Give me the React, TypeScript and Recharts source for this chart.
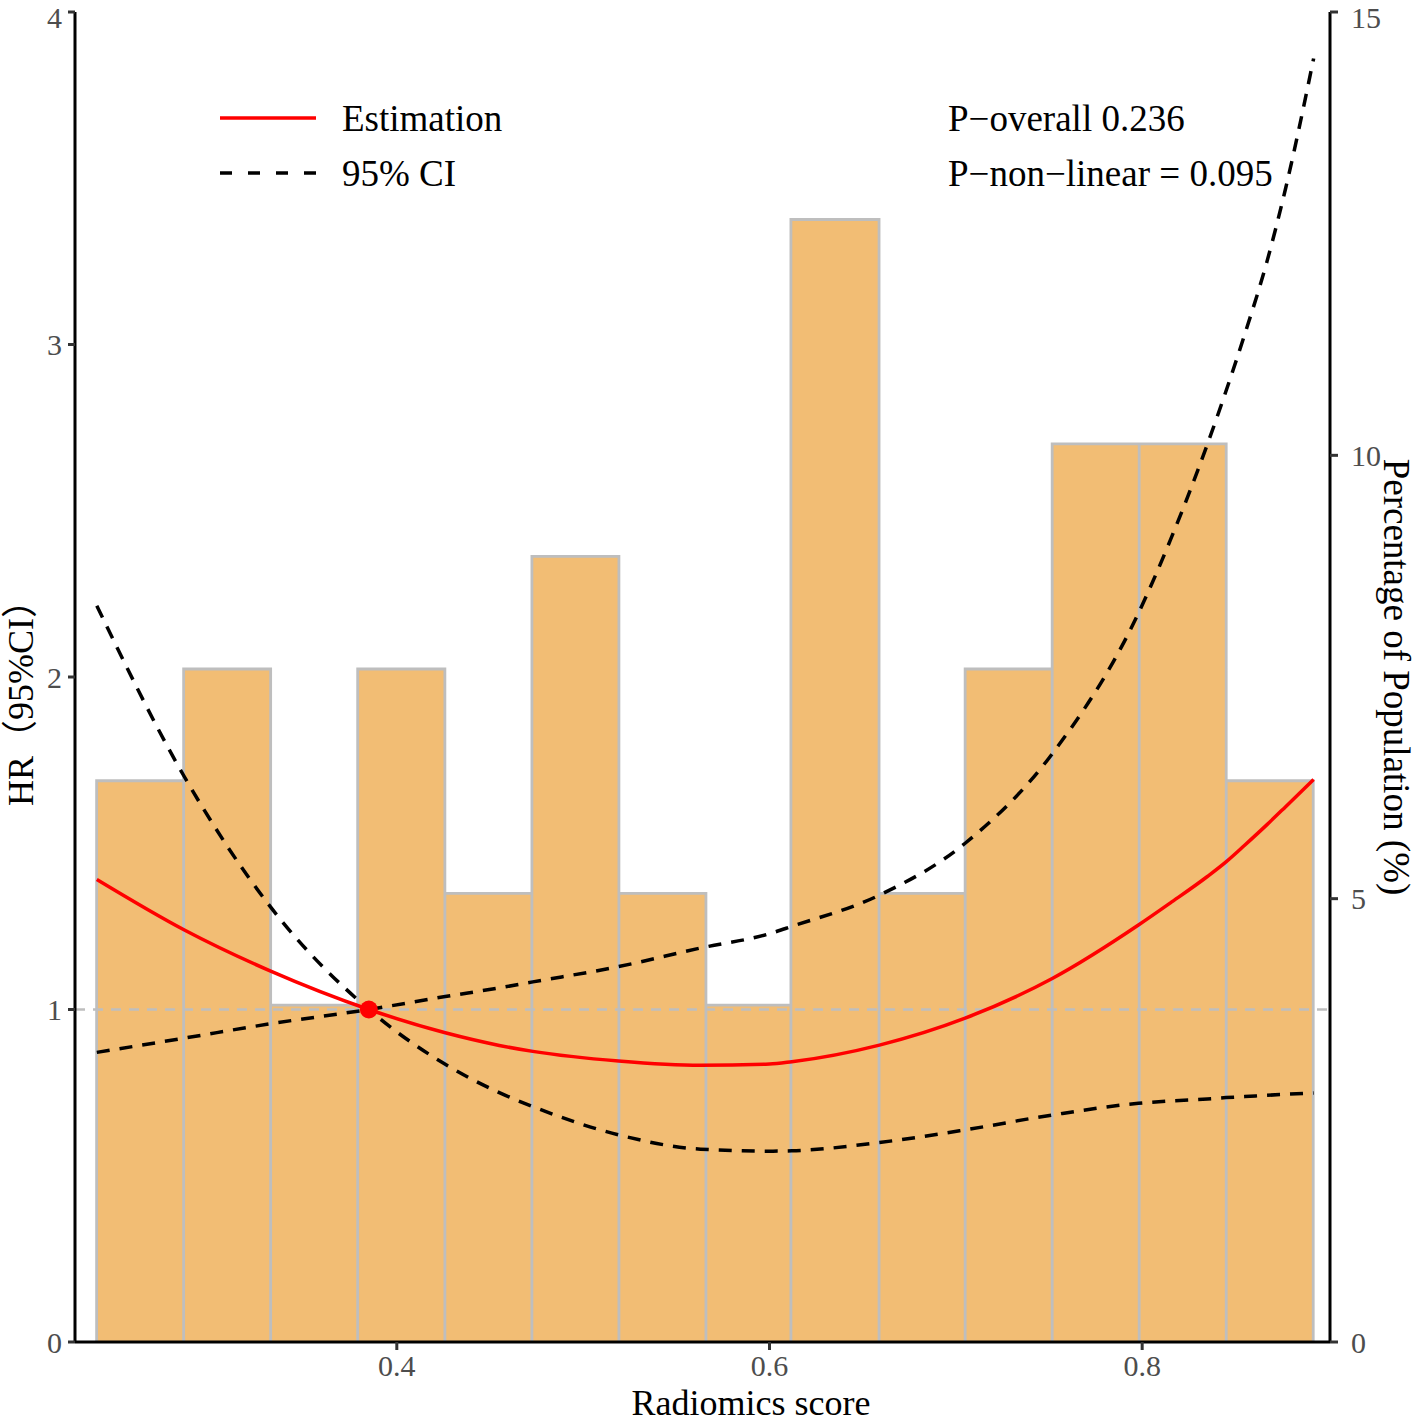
import React from 'react';
import { ComposedChart, Line, Area, XAxis, YAxis, ReferenceLine, ReferenceDot } from 'recharts';

// Histogram bins (Radiomics score) and percentage of population
const binEdges = [0.2389, 0.2856, 0.3323, 0.379, 0.4258, 0.4725, 0.5192, 0.5659, 0.6115, 0.6588, 0.705, 0.7517, 0.7984, 0.8451, 0.8918];
const binPercent = [6.33, 7.59, 3.8, 7.59, 5.06, 8.86, 5.06, 3.8, 12.66, 5.06, 7.59, 10.13, 10.13, 6.33];

// Restricted cubic spline curve
const scoreGrid = [0.239, 0.286, 0.332, 0.385, 0.426, 0.455, 0.473, 0.519, 0.563, 0.6, 0.612, 0.659, 0.705, 0.752, 0.798, 0.815, 0.835, 0.845, 0.855, 0.867, 0.877, 0.892];
const hrEstimate = [1.391, 1.239, 1.116, 1.0, 0.93, 0.892, 0.874, 0.845, 0.832, 0.836, 0.843, 0.893, 0.974, 1.094, 1.254, 1.32, 1.4, 1.444, 1.494, 1.556, 1.61, 1.692];
const ciLower = [2.214, 1.7, 1.31, 1.0, 0.835, 0.75, 0.708, 0.623, 0.58, 0.574, 0.575, 0.6, 0.638, 0.683, 0.718, 0.725, 0.731, 0.735, 0.738, 0.742, 0.745, 0.749];
const ciUpper = [0.871, 0.914, 0.957, 1.0, 1.039, 1.065, 1.083, 1.129, 1.185, 1.228, 1.25, 1.344, 1.5, 1.771, 2.192, 2.41, 2.7, 2.86, 3.03, 3.25, 3.47, 3.86];

const refPoint = { x: 0.385, y: 1 };

const xTicks = [0.4, 0.6, 0.8];
const leftTicks = [0, 1, 2, 3, 4];
const rightTicks = [0, 5, 10, 15];

const pOverall = 'P\u2212overall 0.236';
const pNonLinear = 'P\u2212non\u2212linear = 0.095';

// table: curve rows first, then histogram outline rows (each bin as a closed step)
const curveRows = scoreGrid.map((x, i) => ({ x, est: hrEstimate[i], lo: ciLower[i], hi: ciUpper[i] }));
const histRows: { x: number; pct: number }[] = [];
binPercent.forEach((p, i) => {
  histRows.push({ x: binEdges[i], pct: 0 });
  histRows.push({ x: binEdges[i], pct: p });
  histRows.push({ x: binEdges[i + 1], pct: p });
  histRows.push({ x: binEdges[i + 1], pct: 0 });
});
const rows: any[] = [...curveRows, ...histRows];

const SERIF = '"Liberation Serif", "Times New Roman", "Noto Sans CJK SC", serif';
const W = 1416;
const H = 1423;

const tickStyle = { fill: '#4D4D4D', fontSize: 30, fontFamily: SERIF };

export default function App() {
  return (
    <div style={{ position: 'absolute', left: 0, top: 0, width: W, height: H, background: '#fff' }}>
      <ComposedChart width={W} height={H} data={rows} margin={{ top: 12, right: 0, bottom: 0, left: 0 }}>
        <XAxis
          dataKey="x"
          type="number"
          domain={[0.2273, 0.9008]}
          ticks={xTicks}
          allowDataOverflow
          height={81}
          tick={tickStyle}
          tickSize={8}
          tickMargin={5}
          tickLine={{ stroke: '#333', strokeWidth: 3 }}
          axisLine={{ stroke: '#000', strokeWidth: 3 }}
        />
        <YAxis
          yAxisId={0}
          domain={[0, 4]}
          ticks={leftTicks}
          width={75}
          tick={tickStyle}
          tickSize={7}
          tickMargin={6}
          tickLine={{ stroke: '#333', strokeWidth: 3 }}
          axisLine={{ stroke: '#000', strokeWidth: 3 }}
        />
        <YAxis
          yAxisId={1}
          orientation="right"
          domain={[0, 15]}
          ticks={rightTicks}
          width={86}
          tick={tickStyle}
          tickSize={8}
          tickMargin={13}
          tickLine={{ stroke: '#333', strokeWidth: 3 }}
          axisLine={{ stroke: '#000', strokeWidth: 3 }}
        />
        <Area
          yAxisId={1}
          dataKey="pct"
          type="linear"
          baseValue={0}
          fill="#F2BD74"
          fillOpacity={1}
          stroke="#BEBEBE"
          strokeWidth={2.8}
          dot={false}
          activeDot={false}
          isAnimationActive={false}
        />
        <ReferenceLine yAxisId={0} y={1} stroke="#BEBEBE" strokeWidth={2.5} strokeDasharray="10 8" />
        <Line yAxisId={0} dataKey="lo" type="monotone" stroke="#000" strokeWidth={3.5} strokeDasharray="13 10" dot={false} activeDot={false} isAnimationActive={false} />
        <Line yAxisId={0} dataKey="hi" type="monotone" stroke="#000" strokeWidth={3.5} strokeDasharray="13 10" dot={false} activeDot={false} isAnimationActive={false} />
        <Line yAxisId={0} dataKey="est" type="monotone" stroke="#FF0000" strokeWidth={3.5} dot={false} activeDot={false} isAnimationActive={false} />
        <ReferenceDot yAxisId={0} x={refPoint.x} y={refPoint.y} r={9} fill="#FF0000" stroke="none" />
      </ComposedChart>
      <svg width={W} height={H} style={{ position: 'absolute', left: 0, top: 0, pointerEvents: 'none' }}>
        <g fontFamily={SERIF} fontSize={37} fill="#000">
          <line x1={220} y1={118} x2={316} y2={118} stroke="#FF0000" strokeWidth={3.5} />
          <text x={342} y={131}>Estimation</text>
          <line x1={220} y1={173} x2={316} y2={173} stroke="#000" strokeWidth={3.5} strokeDasharray="12 16" />
          <text x={342} y={186}>95% CI</text>
          <text x={948} y={131}>{pOverall}</text>
          <text x={948} y={186}>{pNonLinear}</text>
          <text x={751} y={1415} textAnchor="middle" fontSize={36}>Radiomics score</text>
          <text x={0} y={0} textAnchor="middle" fontSize={36} transform="translate(33 694) rotate(-90)">HR（95%CI）</text>
          <text x={0} y={0} textAnchor="middle" transform="translate(1384 677) rotate(90)">Percentage of Population (%)</text>
        </g>
      </svg>
    </div>
  );
}
